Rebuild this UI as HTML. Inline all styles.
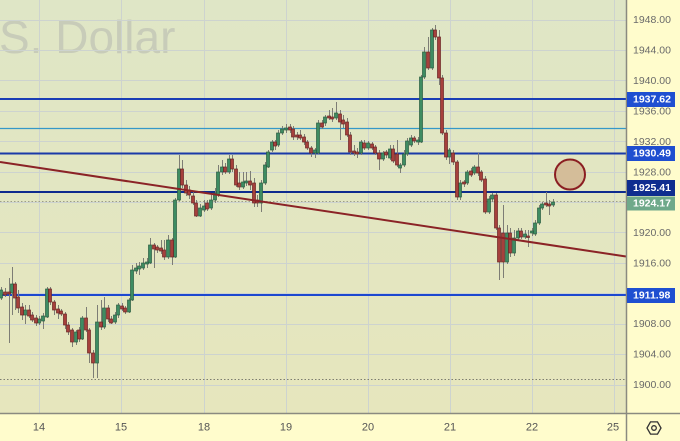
<!DOCTYPE html>
<html>
<head>
<meta charset="utf-8">
<style>
html,body{margin:0;padding:0;background:#fffccc;}
svg{display:block;font-family:"Liberation Sans",sans-serif;}
</style>
</head>
<body>
<svg width="680" height="441" viewBox="0 0 680 441" xmlns="http://www.w3.org/2000/svg">
<defs>
<linearGradient id="bg" x1="0" y1="0" x2="0" y2="1">
<stop offset="0" stop-color="#dfe6c6"/>
<stop offset="1" stop-color="#e6e6bd"/>
</linearGradient>
</defs>
<rect x="0" y="0" width="680" height="441" fill="#fffccc"/>
<rect x="0" y="0" width="626" height="413" fill="url(#bg)"/>

<text x="-1" y="53" font-size="46" fill="#c8ccb9">S. Dollar</text>

<g stroke="#cdd3cf" stroke-width="1">
<path d="M0 20.5H626M0 50.5H626M0 80.5H626M0 111.5H626M0 141.5H626M0 172.5H626M0 202.5H626M0 232.5H626M0 263.5H626M0 293.5H626M0 324.5H626M0 354.5H626M0 385.5H626"/>
<path d="M39.5 0V413M121.5 0V413M204.5 0V413M286.5 0V413M368.5 0V413M450.5 0V413M532.5 0V413M614.5 0V413"/>
</g>

<path d="M0 201.5H626" stroke="#9d9d88" stroke-width="1" stroke-dasharray="1.5 2"/>
<path d="M0 379.5H626" stroke="#7d7d70" stroke-width="1" stroke-dasharray="1.5 2"/>

<path d="M0 99H626" stroke="#1a3db5" stroke-width="2"/>
<path d="M0 128.5H626" stroke="#3498c8" stroke-width="1.2"/>
<path d="M0 153.5H626" stroke="#1a3aa8" stroke-width="2"/>
<path d="M0 192H626" stroke="#0e2b8e" stroke-width="2"/>
<path d="M0 295H626" stroke="#1c48d0" stroke-width="2"/>

<path stroke="#7d7d75" stroke-width="1" fill="none" d="M1.5 287V300M5.5 288V297M9.5 278V343M12.5 267V315M15.5 282V310M18.5 290V313M22.5 303V320M25.5 305V324M29.5 305V318M32.5 312V322M36.5 315V326M39.5 316V325M43.5 313V329M47.5 287V318M50.5 287V305M54.5 300V315M58.5 305V319M61.5 309V316M65.5 312V329M68.5 322V335M72.5 328V347M76.5 330V345M79.5 327V342M82.5 316V340M86.5 307V332M89.5 328V363M93.5 350V378M97.5 305V378M101.5 300V330M104.5 297V329M108.5 305V322M111.5 316V324M115.5 312V324M118.5 303V318M122.5 303V311M125.5 306V314M129.5 298V313M132.5 265V301M136.5 263V274M139.5 262V275M143.5 258V270M147.5 258V268M150.5 238V264M154.5 243V268M157.5 245V253M161.5 240V254M164.5 240V260M168.5 235V259M172.5 238V265M175.5 198V258M179.5 155V201M182.5 160V188M186.5 180V196M189.5 186V199M193.5 192V205M196.5 200V217M200.5 204V217M204.5 200V212M207.5 200V211M211.5 195V210M215.5 188V203M218.5 165V197M222.5 160V175M225.5 163V174M229.5 155V174M232.5 155V172M236.5 165V187M239.5 172V190M243.5 172V189M246.5 172V186M250.5 171V190M254.5 178V207M257.5 195V207M261.5 180V212M265.5 162V185M268.5 150V168M272.5 140V152M275.5 140V150M278.5 130V147M282.5 126V135M286.5 124V133M290.5 124V133M293.5 126V140M297.5 132V140M300.5 130V140M304.5 134V145M307.5 140V150M311.5 146V157M315.5 148V158M318.5 120V154M322.5 120V129M325.5 115V126M329.5 110V120M332.5 108V122M336.5 102V120M340.5 110V140M343.5 115V128M347.5 118V137M350.5 132V155M354.5 145V156M357.5 148V158M361.5 140V155M364.5 140V150M368.5 141V150M372.5 142V150M375.5 145V155M379.5 150V170M383.5 151V161M386.5 150V158M390.5 145V160M393.5 145V163M397.5 140V167M400.5 163V173M404.5 150V167M407.5 138V156M411.5 135V147M414.5 136V143M418.5 137V145M421.5 75V143M424.5 47V79M428.5 37V70M432.5 28V70M435.5 25V40M439.5 30V85M442.5 75V135M446.5 130V160M449.5 148V164M453.5 150V165M457.5 160V200M460.5 180V200M464.5 180V187M467.5 170V185M471.5 168V177M474.5 165V175M478.5 153V176M481.5 170V182M485.5 176V214M489.5 196V214M492.5 193V202M496.5 193V230M499.5 225V280M503.5 205V278M507.5 225V264M510.5 228V257M514.5 230V256M518.5 228V240M521.5 228V239M525.5 230V239M528.5 230V247M532.5 228V236M535.5 220V236M539.5 205V225M542.5 202V210M546.5 192V207M549.5 200V215M553.5 199V207"/>

<g fill="#3e8c62" stroke="#2a5c40" stroke-width="0.7">
<rect x="-0.5" y="290" width="3" height="8"/>
<rect x="10.5" y="284" width="3" height="9"/>
<rect x="23.5" y="310" width="3" height="5"/>
<rect x="37.5" y="319" width="3" height="4"/>
<rect x="41.5" y="316" width="3" height="5"/>
<rect x="45.5" y="289" width="3" height="28"/>
<rect x="74.5" y="332" width="3" height="10"/>
<rect x="80.5" y="318" width="3" height="21"/>
<rect x="95.5" y="322" width="3" height="41"/>
<rect x="102.5" y="308" width="3" height="19"/>
<rect x="113.5" y="315" width="3" height="7"/>
<rect x="116.5" y="305" width="3" height="10"/>
<rect x="127.5" y="300" width="3" height="12"/>
<rect x="130.5" y="270" width="3" height="30"/>
<rect x="134.5" y="268" width="3" height="3"/>
<rect x="137.5" y="266" width="3" height="3"/>
<rect x="141.5" y="263" width="3" height="5"/>
<rect x="145.5" y="262" width="3" height="2"/>
<rect x="148.5" y="245" width="3" height="18"/>
<rect x="166.5" y="240" width="3" height="17"/>
<rect x="173.5" y="200" width="3" height="57"/>
<rect x="177.5" y="169" width="3" height="31"/>
<rect x="198.5" y="208" width="3" height="8"/>
<rect x="202.5" y="206" width="3" height="4"/>
<rect x="209.5" y="200" width="3" height="8"/>
<rect x="213.5" y="193" width="3" height="7"/>
<rect x="216.5" y="172" width="3" height="23"/>
<rect x="220.5" y="167" width="3" height="5"/>
<rect x="227.5" y="159" width="3" height="13"/>
<rect x="241.5" y="182" width="3" height="5"/>
<rect x="244.5" y="181" width="3" height="2"/>
<rect x="259.5" y="183" width="3" height="20"/>
<rect x="263.5" y="165" width="3" height="18"/>
<rect x="266.5" y="152" width="3" height="15"/>
<rect x="270.5" y="142" width="3" height="8"/>
<rect x="276.5" y="133" width="3" height="12"/>
<rect x="280.5" y="129" width="3" height="4"/>
<rect x="284.5" y="128" width="3" height="2"/>
<rect x="313.5" y="150" width="3" height="3"/>
<rect x="316.5" y="123" width="3" height="30"/>
<rect x="323.5" y="117" width="3" height="6"/>
<rect x="334.5" y="113" width="3" height="5"/>
<rect x="359.5" y="142" width="3" height="11"/>
<rect x="366.5" y="143" width="3" height="5"/>
<rect x="381.5" y="153" width="3" height="6"/>
<rect x="388.5" y="149" width="3" height="9"/>
<rect x="398.5" y="165" width="3" height="3"/>
<rect x="402.5" y="154" width="3" height="11"/>
<rect x="405.5" y="141" width="3" height="13"/>
<rect x="409.5" y="138" width="3" height="7"/>
<rect x="416.5" y="140" width="3" height="2"/>
<rect x="419.5" y="77" width="3" height="65"/>
<rect x="422.5" y="52" width="3" height="25"/>
<rect x="430.5" y="30" width="3" height="38"/>
<rect x="447.5" y="150" width="3" height="7"/>
<rect x="458.5" y="183" width="3" height="14"/>
<rect x="465.5" y="172" width="3" height="11"/>
<rect x="472.5" y="167" width="3" height="6"/>
<rect x="487.5" y="199" width="3" height="13"/>
<rect x="490.5" y="195" width="3" height="4"/>
<rect x="505.5" y="233" width="3" height="29"/>
<rect x="512.5" y="238" width="3" height="15"/>
<rect x="516.5" y="231" width="3" height="7"/>
<rect x="523.5" y="234" width="3" height="3"/>
<rect x="530.5" y="231" width="3" height="2"/>
<rect x="533.5" y="223" width="3" height="11"/>
<rect x="537.5" y="208" width="3" height="15"/>
<rect x="540.5" y="204" width="3" height="4"/>
<rect x="551.5" y="202" width="3" height="3"/>
</g>

<g fill="#a6403c" stroke="#6b2424" stroke-width="0.7">
<rect x="3.5" y="292" width="3" height="3"/>
<rect x="7.5" y="292" width="3" height="2"/>
<rect x="13.5" y="284" width="3" height="14"/>
<rect x="16.5" y="297" width="3" height="11"/>
<rect x="20.5" y="307" width="3" height="8"/>
<rect x="27.5" y="310" width="3" height="6"/>
<rect x="30.5" y="315" width="3" height="5"/>
<rect x="34.5" y="318" width="3" height="5"/>
<rect x="48.5" y="289" width="3" height="13"/>
<rect x="52.5" y="302" width="3" height="8"/>
<rect x="56.5" y="309" width="3" height="4"/>
<rect x="59.5" y="311" width="3" height="3"/>
<rect x="63.5" y="314" width="3" height="11"/>
<rect x="66.5" y="325" width="3" height="7"/>
<rect x="70.5" y="330" width="3" height="12"/>
<rect x="77.5" y="330" width="3" height="9"/>
<rect x="84.5" y="318" width="3" height="12"/>
<rect x="87.5" y="330" width="3" height="23"/>
<rect x="91.5" y="353" width="3" height="10"/>
<rect x="99.5" y="322" width="3" height="5"/>
<rect x="106.5" y="308" width="3" height="11"/>
<rect x="109.5" y="319" width="3" height="4"/>
<rect x="120.5" y="306" width="3" height="3"/>
<rect x="123.5" y="308" width="3" height="4"/>
<rect x="152.5" y="245" width="3" height="4"/>
<rect x="155.5" y="247" width="3" height="3"/>
<rect x="159.5" y="248" width="3" height="3"/>
<rect x="162.5" y="250" width="3" height="7"/>
<rect x="170.5" y="240" width="3" height="17"/>
<rect x="180.5" y="169" width="3" height="16"/>
<rect x="184.5" y="185" width="3" height="8"/>
<rect x="187.5" y="190" width="3" height="5"/>
<rect x="191.5" y="196" width="3" height="7"/>
<rect x="194.5" y="203" width="3" height="13"/>
<rect x="205.5" y="203" width="3" height="6"/>
<rect x="223.5" y="167" width="3" height="5"/>
<rect x="230.5" y="159" width="3" height="10"/>
<rect x="234.5" y="169" width="3" height="16"/>
<rect x="237.5" y="183" width="3" height="4"/>
<rect x="248.5" y="181" width="3" height="4"/>
<rect x="252.5" y="183" width="3" height="20"/>
<rect x="255.5" y="200" width="3" height="3"/>
<rect x="273.5" y="142" width="3" height="4"/>
<rect x="288.5" y="127" width="3" height="3"/>
<rect x="291.5" y="129" width="3" height="8"/>
<rect x="295.5" y="135" width="3" height="2"/>
<rect x="298.5" y="135" width="3" height="3"/>
<rect x="302.5" y="137" width="3" height="5"/>
<rect x="305.5" y="142" width="3" height="6"/>
<rect x="309.5" y="148" width="3" height="5"/>
<rect x="320.5" y="123" width="3" height="4"/>
<rect x="327.5" y="116" width="3" height="2"/>
<rect x="330.5" y="117" width="3" height="2"/>
<rect x="338.5" y="114" width="3" height="8"/>
<rect x="341.5" y="120" width="3" height="4"/>
<rect x="345.5" y="122" width="3" height="13"/>
<rect x="348.5" y="135" width="3" height="17"/>
<rect x="352.5" y="151" width="3" height="2"/>
<rect x="355.5" y="152" width="3" height="2"/>
<rect x="362.5" y="143" width="3" height="5"/>
<rect x="370.5" y="144" width="3" height="4"/>
<rect x="373.5" y="147" width="3" height="6"/>
<rect x="377.5" y="153" width="3" height="6"/>
<rect x="384.5" y="152" width="3" height="3"/>
<rect x="391.5" y="149" width="3" height="12"/>
<rect x="395.5" y="154" width="3" height="11"/>
<rect x="412.5" y="138" width="3" height="3"/>
<rect x="426.5" y="52" width="3" height="16"/>
<rect x="433.5" y="30" width="3" height="7"/>
<rect x="437.5" y="37" width="3" height="41"/>
<rect x="440.5" y="78" width="3" height="55"/>
<rect x="444.5" y="133" width="3" height="24"/>
<rect x="451.5" y="153" width="3" height="9"/>
<rect x="455.5" y="162" width="3" height="35"/>
<rect x="462.5" y="182" width="3" height="2"/>
<rect x="469.5" y="171" width="3" height="4"/>
<rect x="476.5" y="167" width="3" height="6"/>
<rect x="479.5" y="172" width="3" height="8"/>
<rect x="483.5" y="179" width="3" height="33"/>
<rect x="494.5" y="195" width="3" height="33"/>
<rect x="497.5" y="228" width="3" height="34"/>
<rect x="501.5" y="233" width="3" height="29"/>
<rect x="508.5" y="233" width="3" height="20"/>
<rect x="519.5" y="231" width="3" height="6"/>
<rect x="526.5" y="236" width="3" height="1.5"/>
<rect x="544.5" y="203" width="3" height="2"/>
<rect x="547.5" y="204" width="3" height="2"/>
</g>

<path d="M0 162L626 256.5" stroke="#8b2326" stroke-width="2" fill="none"/>

<circle cx="570" cy="174.5" r="15" fill="#d4bd99" stroke="#8b1e22" stroke-width="2"/>

<path d="M626.5 0V441" stroke="#8a8a80" stroke-width="1.5"/>
<path d="M0 413.5H680" stroke="#8a8a80" stroke-width="1.5"/>

<g font-size="10.5" fill="#6a6a6a" dominant-baseline="central">
<text x="633" y="20">1948.00</text>
<text x="633" y="50.5">1944.00</text>
<text x="633" y="81">1940.00</text>
<text x="633" y="111.5">1936.00</text>
<text x="633" y="142">1932.00</text>
<text x="633" y="172.5">1928.00</text>
<text x="633" y="233">1920.00</text>
<text x="633" y="263.5">1916.00</text>
<text x="633" y="324">1908.00</text>
<text x="633" y="354.5">1904.00</text>
<text x="633" y="385">1900.00</text>
</g>

<rect x="627" y="92" width="48" height="15" fill="#1f4fd1"/>
<rect x="627" y="146" width="48" height="15" fill="#1f4ed0"/>
<rect x="627" y="180" width="48" height="16" fill="#0f2d8f"/>
<rect x="627" y="196.5" width="48" height="14" fill="#6fa98a"/>
<rect x="627" y="288" width="48" height="15" fill="#1f4fd1"/>
<g font-size="10.5" font-weight="bold" fill="#ffffff" dominant-baseline="central">
<text x="633" y="99.5">1937.62</text>
<text x="633" y="153.5">1930.49</text>
<text x="633" y="188">1925.41</text>
<text x="633" y="203.5">1924.17</text>
<text x="633" y="295.5">1911.98</text>
</g>

<g font-size="11" fill="#555" text-anchor="middle" dominant-baseline="central">
<text x="39" y="427.5">14</text>
<text x="121" y="427.5">15</text>
<text x="204" y="427.5">18</text>
<text x="286" y="427.5">19</text>
<text x="368" y="427.5">20</text>
<text x="450" y="427.5">21</text>
<text x="532" y="427.5">22</text>
<text x="613" y="427.5">25</text>
</g>

<polygon points="661,428 657.5,434.1 650.5,434.1 647,428 650.5,421.9 657.5,421.9" fill="none" stroke="#333" stroke-width="1.3"/>
<circle cx="654" cy="428" r="2.3" fill="none" stroke="#333" stroke-width="1.3"/>
</svg>
</body>
</html>
